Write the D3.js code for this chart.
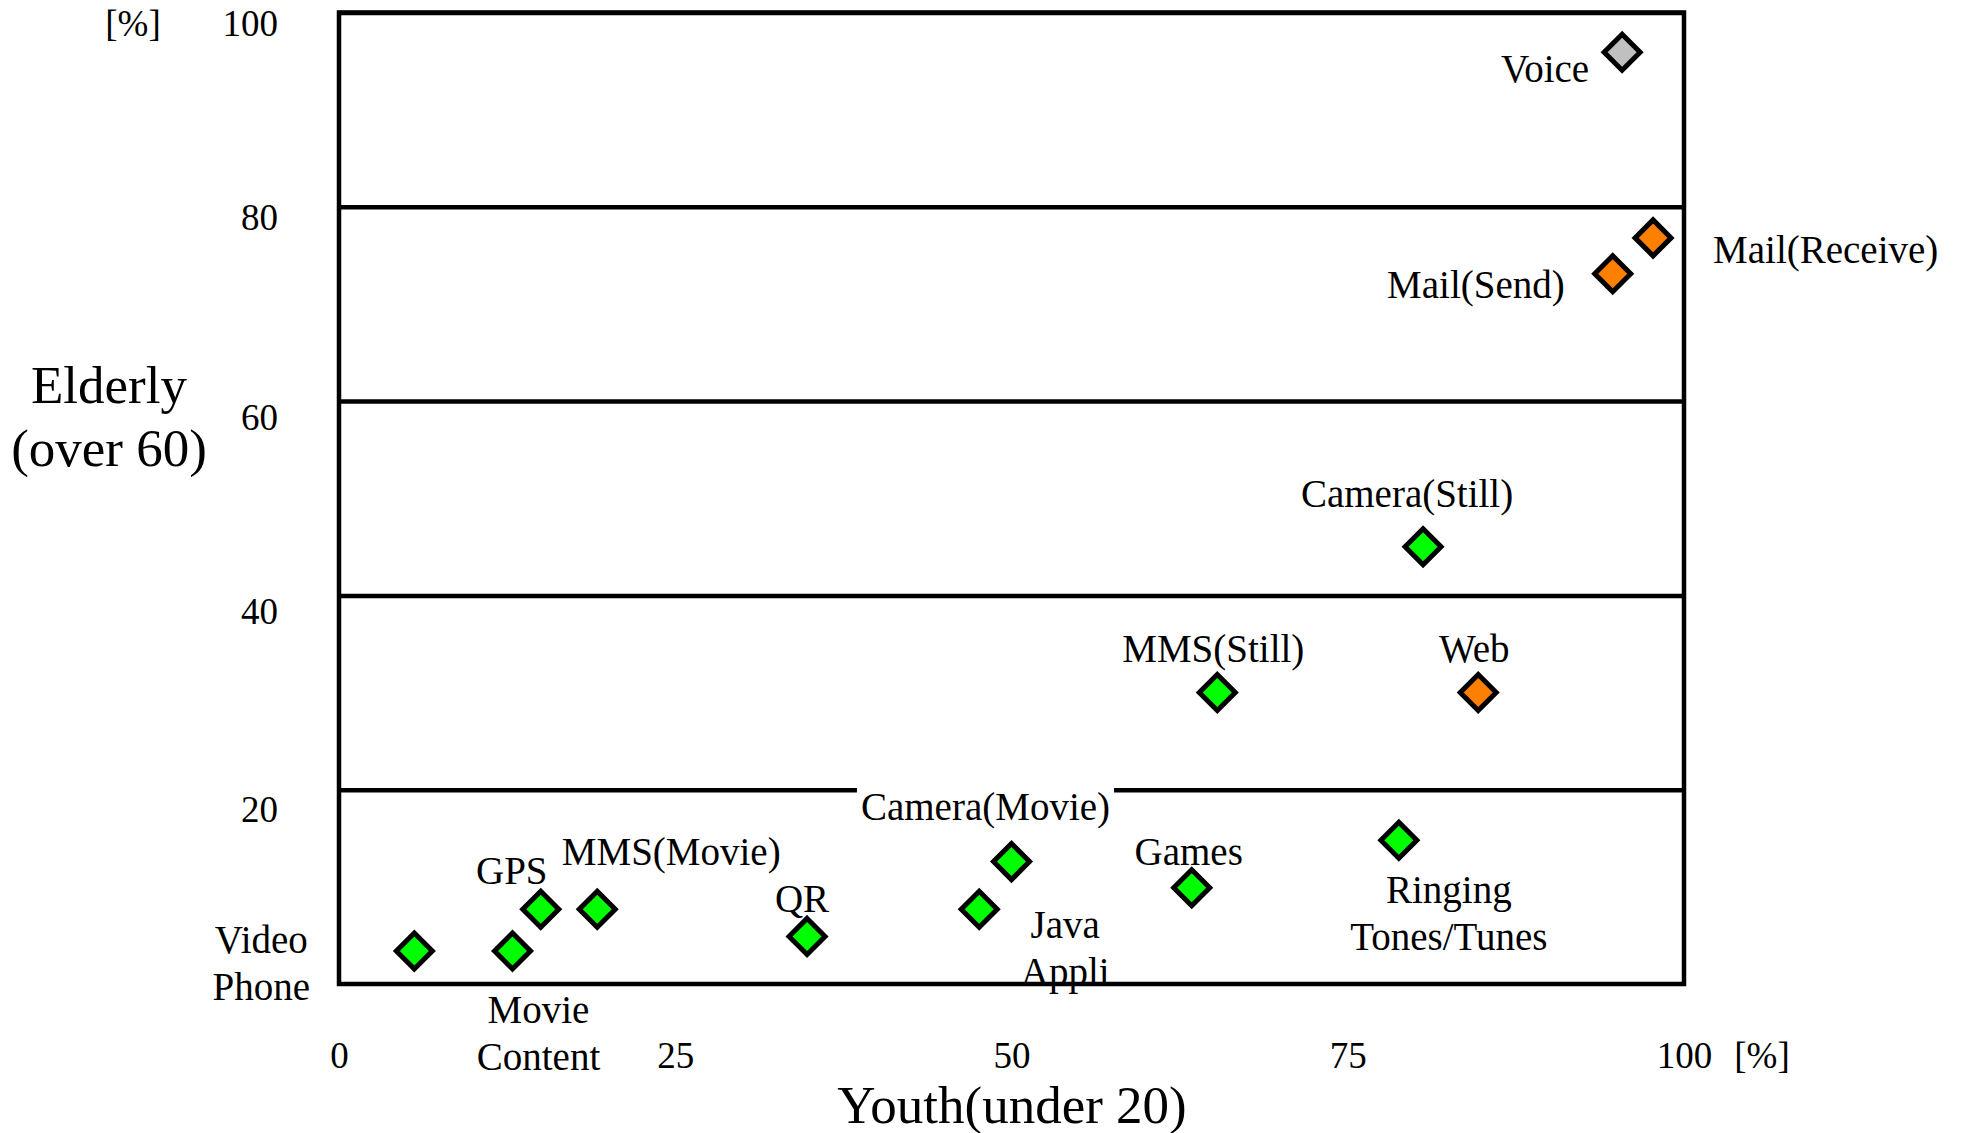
<!DOCTYPE html>
<html>
<head>
<meta charset="utf-8">
<script src="https://cdn.jsdelivr.net/npm/d3@7"></script>
<style>
html,body{margin:0;padding:0;background:#fff;}
svg{display:block;font-family:"Liberation Serif","Times New Roman",serif;}
</style>
</head>
<body>
<svg id="chart" width="1963" height="1133"></svg>
<script>
// ---- data ----
const services = ["Voice","Mail(Receive)","Mail(Send)","Camera(Still)","MMS(Still)","Web",
  "Ringing Tones/Tunes","Games","Camera(Movie)","Java Appli","QR","MMS(Movie)","GPS","Movie Content","Video Phone"];
const youthPct   = [95.4, 97.7, 94.7, 80.6, 65.3, 84.7, 78.8, 63.4, 50.0, 47.6, 34.8, 19.2, 15.0, 12.9, 5.6];
const elderlyPct = [95.9, 76.8, 73.1, 45.0, 30.0, 30.0, 14.8,  9.9, 12.6,  7.7,  4.9,  7.7,  7.7,  3.4, 3.4];
const groups     = ["voice","mail","mail","other","other","mail","other","other","other","other","other","other","other","other","other"];
const labelLines = [["Voice"],["Mail(Receive)"],["Mail(Send)"],["Camera(Still)"],["MMS(Still)"],["Web"],
  ["Ringing","Tones/Tunes"],["Games"],["Camera(Movie)"],["Java","Appli"],["QR"],["MMS(Movie)"],["GPS"],["Movie","Content"],["Video","Phone"]];
const xTicks = [0,25,50,75,100];
const yTicks = [20,40,60,80,100];

// ---- layout (not data) ----
const groupColor = {voice:"#c0c0c0", mail:"#ff7f00", other:"#00ff00"};
const labelPos = { // dx, dy (first line centre), anchor
  "Voice":[-33,16,"end"], "Mail(Receive)":[60,11,"start"], "Mail(Send)":[-48,11,"end"],
  "Camera(Still)":[-16,-53,"middle"], "MMS(Still)":[-4,-44,"middle"], "Web":[-4,-44,"middle"],
  "Ringing Tones/Tunes":[50,49,"middle"], "Games":[-3,-36,"middle"], "Camera(Movie)":[-26,-55,"middle"],
  "Java Appli":[86,15,"middle"], "QR":[-5,-38,"middle"], "MMS(Movie)":[74,-58,"middle"],
  "GPS":[-29,-39,"middle"], "Movie Content":[26,58,"middle"], "Video Phone":[-153,-12,"middle"]
};
const lineH = 47.5;
const yTickShift = {20:19, 40:15, 60:15, 80:10, 100:10};

const svg = d3.select("#chart");
const L = 339, R = 1684, T = 12.5, B = 984;
const x = d3.scaleLinear().domain([0,100]).range([L,R]);
const y = d3.scaleLinear().domain([0,100]).range([B,T]);

// gridlines + y tick labels via axis
const yAxis = svg.append("g").attr("transform",`translate(${L},0)`)
  .call(d3.axisLeft(y).tickValues(yTicks).tickSizeInner(-(R-L)).tickSizeOuter(0).tickPadding(61).tickFormat(d3.format("d")));
yAxis.select(".domain").remove();
yAxis.selectAll(".tick line").attr("stroke","#000").attr("stroke-width",4.5);
yAxis.selectAll(".tick text").attr("font-size",37).attr("fill","#000").attr("font-family","Liberation Serif")
  .attr("y",d=>yTickShift[d]).attr("dy","0.35em");

// frame
svg.append("rect").attr("x",L).attr("y",T).attr("width",R-L).attr("height",B-T)
  .attr("fill","none").attr("stroke","#000").attr("stroke-width",4.5);

// x axis labels
const xAxis = svg.append("g").attr("transform",`translate(0,${B})`)
  .call(d3.axisBottom(x).tickValues(xTicks).tickSize(0).tickFormat(d3.format("d")));
xAxis.select(".domain").remove();
xAxis.selectAll(".tick text").attr("font-size",37).attr("fill","#000").attr("font-family","Liberation Serif")
  .attr("y",71).attr("dy","0.35em");

// units
svg.append("text").attr("x",133).attr("y",23).attr("dy","0.35em").attr("text-anchor","middle")
  .attr("font-size",37).text("[%]");
svg.append("text").attr("x",1762).attr("y",1055).attr("dy","0.35em").attr("text-anchor","middle")
  .attr("font-size",37).text("[%]");

// axis titles
svg.append("text").attr("x",109).attr("y",384).attr("dy","0.35em").attr("text-anchor","middle")
  .attr("font-size",53).text("Elderly");
svg.append("text").attr("x",109).attr("y",447).attr("dy","0.35em").attr("text-anchor","middle")
  .attr("font-size",53).text("(over 60)");
svg.append("text").attr("x",1012).attr("y",1104).attr("dy","0.35em").attr("text-anchor","middle")
  .attr("font-size",53).text("Youth(under 20)");

// points
const pts = services.map((s,i)=>({name:s,x:youthPct[i],y:elderlyPct[i],g:groups[i],lines:labelLines[i]}));
const hd = 18;
svg.append("g").selectAll("path").data(pts).join("path")
  .attr("d",d=>{const cx=x(d.x), cy=y(d.y);
    return `M${cx},${cy-hd}L${cx+hd},${cy}L${cx},${cy+hd}L${cx-hd},${cy}Z`;})
  .attr("fill",d=>groupColor[d.g]).attr("stroke","#000").attr("stroke-width",5).attr("stroke-linejoin","miter");

// labels
const lg = svg.append("g");
pts.forEach(d=>{
  const [dx,dy,anchor] = labelPos[d.name];
  const lx = x(d.x)+dx, ly = y(d.y)+dy;
  const t = lg.append("text").attr("text-anchor",anchor).attr("font-size",39).attr("fill","#000");
  d.lines.forEach((ln,j)=>{
    t.append("tspan").attr("x",lx).attr("y",ly+j*lineH).attr("dy","0.35em").text(ln);
  });
  if(d.name==="Camera(Movie)"){
    const bb = t.node().getBBox();
    lg.insert("rect","text").attr("x",bb.x-4).attr("y",bb.y).attr("width",bb.width+8).attr("height",bb.height)
      .attr("fill","#fff");
  }
});
</script>
</body>
</html>
